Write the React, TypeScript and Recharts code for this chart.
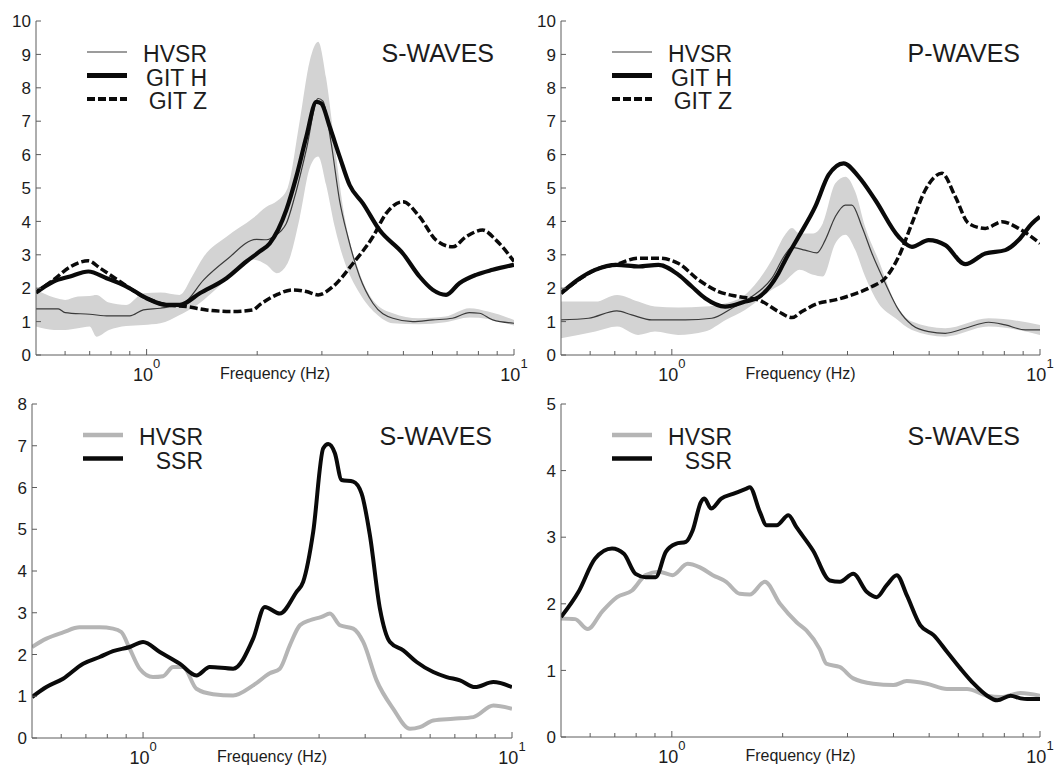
import { ComposedChart, Line, Area, XAxis, YAxis, Label } from "recharts";

// ---------- top-left: S-waves (HVSR band, GIT H, GIT Z)
const tlHvsrF = [0.5, 0.575, 0.6, 0.7, 0.79, 0.9, 0.98, 1.09, 1.26, 1.43, 1.65, 1.99, 2.12, 2.21, 2.4, 2.53, 2.72, 2.93, 3.02, 3.18, 3.35, 3.53, 3.8, 4.13, 4.68, 5.3, 6.0, 6.8, 7.56, 8.05, 8.75, 10];
const tlHvsr = [1.38, 1.38, 1.27, 1.22, 1.17, 1.17, 1.35, 1.4, 1.55, 2.25, 2.85, 3.46, 3.45, 3.54, 3.94, 4.74, 6.14, 7.68, 7.6, 6.34, 4.64, 3.54, 2.35, 1.55, 1.1, 1.0, 1.05, 1.1, 1.27, 1.25, 1.05, 0.95];
const tlBandF = [0.5, 0.56, 0.6, 0.65, 0.7, 0.73, 0.79, 0.88, 0.98, 1.09, 1.23, 1.33, 1.43, 1.65, 1.95, 2.12, 2.26, 2.42, 2.61, 2.78, 2.93, 3.08, 3.25, 3.42, 3.8, 4.2, 4.68, 5.5, 6.5, 7.56, 8.5, 10];
const tlBandHi = [1.95, 1.72, 1.65, 1.75, 1.77, 1.8, 1.57, 1.5, 1.85, 1.87, 1.8, 2.35, 2.94, 3.54, 4.1, 4.44, 4.6, 5.0, 7.0, 8.8, 9.38, 8.3, 6.3, 4.45, 2.45, 1.55, 1.25, 1.1, 1.15, 1.4, 1.3, 1.05];
const tlBandLo = [0.85, 0.75, 0.75, 0.8, 0.85, 0.55, 0.75, 0.87, 0.9, 0.95, 1.2, 1.4, 1.65, 2.25, 2.85, 2.7, 2.45, 2.75, 4.1, 5.6, 5.94, 5.1, 3.85, 2.95, 1.85, 1.25, 0.95, 0.92, 0.98, 1.12, 1.08, 0.88];
const tlGitHF = [0.5, 0.558, 0.619, 0.694, 0.778, 0.882, 1.0, 1.133, 1.232, 1.396, 1.65, 1.869, 2.032, 2.163, 2.4, 2.556, 2.722, 2.897, 2.989, 3.149, 3.353, 3.569, 3.879, 4.306, 4.984, 5.531, 6.012, 6.535, 7.103, 7.884, 8.75, 10];
const tlGitH = [1.87, 2.2, 2.35, 2.5, 2.3, 2.05, 1.7, 1.5, 1.5, 1.85, 2.3, 2.8, 3.1, 3.34, 4.34, 5.34, 6.54, 7.58, 7.53, 6.84, 5.94, 5.09, 4.54, 3.74, 3.04, 2.35, 1.95, 1.8, 2.15, 2.4, 2.55, 2.7];
const tlGitZF = [0.5, 0.558, 0.619, 0.694, 0.747, 0.846, 1.0, 1.133, 1.284, 1.456, 1.72, 1.949, 2.03, 2.256, 2.503, 2.722, 2.928, 3.216, 3.644, 4.13, 4.489, 4.984, 5.531, 6.138, 6.813, 7.405, 8.22, 8.935, 10];
const tlGitZ = [1.87, 2.25, 2.64, 2.82, 2.6, 2.2, 1.7, 1.5, 1.45, 1.35, 1.3, 1.35, 1.5, 1.8, 1.95, 1.9, 1.8, 2.05, 2.74, 3.54, 4.24, 4.59, 4.14, 3.44, 3.24, 3.54, 3.74, 3.44, 2.8];

// ---------- top-right: P-waves
const trHvsrF = [0.5, 0.594, 0.709, 0.778, 0.882, 1.087, 1.284, 1.456, 1.65, 1.87, 2.03, 2.12, 2.3, 2.477, 2.61, 2.779, 2.958, 3.084, 3.284, 3.496, 3.799, 4.13, 4.489, 4.984, 5.531, 6.268, 7.253, 8.05, 9.123, 10];
const trHvsr = [1.05, 1.1, 1.32, 1.2, 1.05, 1.05, 1.1, 1.4, 1.75, 2.3, 3.0, 3.22, 3.14, 3.06, 3.44, 4.14, 4.49, 4.49, 3.84, 3.04, 2.15, 1.35, 0.9, 0.7, 0.65, 0.8, 0.98, 0.9, 0.75, 0.75];
const trBandF = [0.5, 0.62, 0.71, 0.81, 0.9, 1.04, 1.23, 1.4, 1.58, 1.87, 2.03, 2.12, 2.22, 2.42, 2.57, 2.78, 2.96, 3.15, 3.35, 3.64, 4.05, 4.49, 5.53, 7.25, 10];
const trBandHi = [1.6, 1.6, 1.8, 1.6, 1.45, 1.42, 1.45, 1.55, 1.8, 2.85, 3.6, 3.8, 3.64, 3.64, 3.94, 5.14, 5.34, 4.89, 3.84, 2.85, 1.55, 1.0, 0.8, 1.1, 0.9];
const trBandLo = [0.5, 0.7, 0.85, 0.6, 0.7, 0.6, 0.7, 1.05, 1.35, 1.95, 2.2, 2.4, 2.55, 2.4, 2.35, 3.34, 3.6, 3.14, 2.35, 1.55, 1.1, 0.75, 0.55, 0.85, 0.6];
const trGitHF = [0.5, 0.558, 0.619, 0.709, 0.812, 0.92, 1.043, 1.133, 1.232, 1.396, 1.582, 1.72, 1.949, 2.032, 2.209, 2.452, 2.665, 2.928, 3.216, 3.569, 4.13, 4.489, 4.984, 5.531, 6.268, 7.103, 8.05, 8.75, 9.512, 10];
const trGitH = [1.85, 2.27, 2.55, 2.7, 2.65, 2.7, 2.4, 2.05, 1.7, 1.45, 1.6, 1.73, 2.45, 2.84, 3.54, 4.44, 5.39, 5.74, 5.34, 4.64, 3.54, 3.24, 3.44, 3.29, 2.72, 3.04, 3.14, 3.44, 3.94, 4.14];
const trGitZF = [0.5, 0.558, 0.619, 0.709, 0.812, 0.92, 1.043, 1.182, 1.339, 1.518, 1.72, 1.949, 2.119, 2.256, 2.503, 2.779, 3.084, 3.496, 3.799, 4.13, 4.489, 4.88, 5.416, 5.888, 6.4, 7.103, 7.884, 8.75, 10];
const trGitZ = [1.85, 2.25, 2.55, 2.72, 2.9, 2.9, 2.74, 2.25, 1.9, 1.75, 1.65, 1.3, 1.12, 1.3, 1.55, 1.65, 1.8, 2.05, 2.3, 2.94, 3.94, 4.94, 5.44, 4.74, 3.94, 3.79, 3.99, 3.79, 3.34];

// ---------- bottom-left: S-waves, HVSR vs SSR
const blHvsrF = [0.5, 0.547, 0.607, 0.673, 0.763, 0.829, 0.873, 0.92, 0.979, 1.064, 1.133, 1.206, 1.284, 1.395, 1.548, 1.754, 1.988, 2.206, 2.348, 2.499, 2.661, 2.833, 3.047, 3.21, 3.416, 3.712, 3.951, 4.295, 4.766, 5.289, 5.63, 6.118, 6.933, 7.857, 8.9, 10];
const blHvsr = [2.18, 2.38, 2.53, 2.65, 2.65, 2.62, 2.54, 2.14, 1.66, 1.46, 1.48, 1.7, 1.7, 1.18, 1.05, 1.02, 1.26, 1.55, 1.66, 2.22, 2.7, 2.82, 2.9, 2.98, 2.7, 2.62, 2.3, 1.38, 0.7, 0.22, 0.26, 0.42, 0.46, 0.5, 0.78, 0.7];
const blSsrF = [0.5, 0.547, 0.607, 0.688, 0.763, 0.829, 0.92, 1.0, 1.11, 1.257, 1.395, 1.516, 1.754, 1.988, 2.138, 2.348, 2.606, 2.716, 2.892, 3.079, 3.177, 3.311, 3.452, 3.712, 3.91, 4.119, 4.385, 4.668, 5.073, 5.514, 6.118, 6.65, 7.228, 7.94, 8.9, 10];
const blSsr = [0.98, 1.22, 1.42, 1.78, 1.94, 2.08, 2.18, 2.3, 2.06, 1.78, 1.5, 1.7, 1.66, 2.38, 3.14, 2.98, 3.5, 3.74, 4.94, 6.94, 7.04, 6.82, 6.18, 6.14, 5.86, 4.86, 3.1, 2.3, 2.1, 1.82, 1.58, 1.46, 1.38, 1.22, 1.34, 1.22];

// ---------- bottom-right: S-waves, HVSR vs SSR
const brHvsrF = [0.5, 0.546, 0.591, 0.646, 0.71, 0.78, 0.849, 0.923, 1.004, 1.104, 1.188, 1.292, 1.405, 1.529, 1.628, 1.789, 1.967, 2.185, 2.32, 2.522, 2.63, 2.861, 3.11, 3.527, 3.999, 4.346, 4.929, 5.589, 6.337, 7.185, 7.812, 8.857, 10];
const brHvsr = [1.78, 1.77, 1.62, 1.88, 2.1, 2.2, 2.43, 2.48, 2.43, 2.6, 2.55, 2.43, 2.33, 2.15, 2.14, 2.33, 2.0, 1.72, 1.6, 1.32, 1.1, 1.05, 0.88, 0.8, 0.78, 0.84, 0.8, 0.72, 0.72, 0.62, 0.6, 0.66, 0.62];
const brSsrF = [0.5, 0.558, 0.619, 0.688, 0.741, 0.797, 0.849, 0.904, 0.963, 1.025, 1.092, 1.139, 1.2, 1.226, 1.279, 1.362, 1.466, 1.595, 1.628, 1.734, 1.808, 1.926, 2.073, 2.18, 2.418, 2.686, 2.861, 3.11, 3.382, 3.6, 3.834, 4.084, 4.346, 4.727, 5.14, 5.589, 6.076, 6.607, 7.185, 7.65, 8.318, 8.857, 9.237, 10];
const brSsr = [1.8, 2.18, 2.68, 2.83, 2.75, 2.45, 2.4, 2.4, 2.78, 2.9, 2.93, 3.1, 3.53, 3.58, 3.43, 3.58, 3.65, 3.73, 3.75, 3.38, 3.18, 3.18, 3.33, 3.15, 2.8, 2.35, 2.33, 2.45, 2.18, 2.1, 2.28, 2.43, 2.13, 1.68, 1.53, 1.28, 1.03, 0.8, 0.62, 0.55, 0.62, 0.58, 0.57, 0.57];

// ---------- axis ticks
const xTicks = [0.6, 0.7, 0.8, 0.9, 1, 2, 3, 4, 5, 6, 7, 8, 9, 10];
const yTicks10 = [0, 1, 2, 3, 4, 5, 6, 7, 8, 9, 10];
const yTicks8 = [0, 1, 2, 3, 4, 5, 6, 7, 8];
const yTicks5 = [0, 1, 2, 3, 4, 5];

const INK = "#1c1c1c";
const AXIS = "#5c5c5c";
const BAND = "#d3d3d3";
const FONT = '"Liberation Sans", Arial, sans-serif';

type Pt = { f: number; v: number };
type BandPt = { f: number; lo: number; hi: number };
type Rect = { x: number; y: number; w: number; h: number };

const pts = (f: number[], v: number[]): Pt[] => f.map((x, i) => ({ f: x, v: v[i] }));
const bandPts = (f: number[], lo: number[], hi: number[]): BandPt[] =>
  f.map((x, i) => ({ f: x, lo: lo[i], hi: hi[i] }));

interface Series {
  data: Pt[];
  stroke: string;
  width: number;
  dash?: string;
}

interface LegendRow {
  label: string;
  stroke: string;
  width: number;
  dash?: string;
}

interface PanelDef {
  plot: Rect;
  yMax: number;
  yTicks: number[];
  band?: BandPt[];
  series: Series[];
  legend: LegendRow[];
  title: string;
  rowGap: number;
}

const BottomTick = (props: any) => {
  const { x, y, payload } = props;
  const v = payload.value;
  const major = v === 1 || v === 10;
  return (
    <g>
      <line x1={x} y1={y} x2={x} y2={y - (major ? 6 : 4)} stroke={AXIS} />
      {major && (
        <text x={x} y={y + 26} textAnchor="middle" fontSize={18} fill={INK}>
          10
          <tspan dy={-13} fontSize={13}>
            {v === 1 ? "0" : "1"}
          </tspan>
        </text>
      )}
    </g>
  );
};

const TopTick = (props: any) => {
  const { x, y, payload } = props;
  const major = payload.value === 1 || payload.value === 10;
  return <line x1={x} y1={y} x2={x} y2={y + (major ? 6 : 4)} stroke={AXIS} />;
};

const LeftTick = (props: any) => {
  const { x, y, payload } = props;
  return (
    <g>
      <line x1={x} y1={y} x2={x + 5} y2={y} stroke={AXIS} />
      <text x={x - 5} y={y} dy="0.36em" textAnchor="end" fontSize={17} fill={INK}>
        {payload.value}
      </text>
    </g>
  );
};

const RightTick = (props: any) => {
  const { x, y } = props;
  return <line x1={x} y1={y} x2={x - 5} y2={y} stroke={AXIS} />;
};

function Panel({ plot, yMax, yTicks, band, series, legend, title, rowGap }: PanelDef) {
  const AX_W = 40;
  const TOP = 10;
  const RIGHT = 19;
  const AX_H = 36;
  const width = plot.w + AX_W + RIGHT;
  const height = plot.h + TOP + AX_H;
  const xProps = {
    dataKey: "f",
    type: "number" as const,
    scale: "log" as const,
    domain: [0.5, 10],
    allowDataOverflow: true,
    ticks: xTicks,
    interval: 0 as const,
    tickSize: 0,
    tickMargin: 0,
    stroke: AXIS,
  };
  const yProps = {
    type: "number" as const,
    domain: [0, yMax],
    allowDataOverflow: true,
    ticks: yTicks,
    interval: 0 as const,
    tickSize: 0,
    tickMargin: 0,
    stroke: AXIS,
  };
  return (
    <div style={{ position: "absolute", left: plot.x - AX_W, top: plot.y - TOP }}>
      <ComposedChart width={width} height={height} margin={{ top: TOP, right: RIGHT, bottom: 0, left: 0 }}>
        <XAxis {...xProps} height={AX_H} tick={(p: any) => <BottomTick {...p} />}>
          <Label value="Frequency (Hz)" position="insideTop" offset={13} fontSize={16} fill={INK} />
        </XAxis>
        <XAxis {...xProps} xAxisId="top" orientation="top" height={0} tick={(p: any) => <TopTick {...p} />} />
        <YAxis {...yProps} width={AX_W} tick={(p: any) => <LeftTick {...p} />} />
        <YAxis {...yProps} yAxisId="right" orientation="right" width={0} tick={(p: any) => <RightTick {...p} />} />
        {band && (
          <Area
            data={band}
            dataKey={(d: BandPt) => [d.lo, d.hi]}
            type="monotone"
            stroke="none"
            fill={BAND}
            fillOpacity={1}
            isAnimationActive={false}
          />
        )}
        {series.map((s, i) => (
          <Line
            key={i}
            data={s.data}
            dataKey="v"
            type="monotone"
            stroke={s.stroke}
            strokeWidth={s.width}
            strokeDasharray={s.dash}
            strokeLinejoin="round"
            dot={false}
            activeDot={false}
            isAnimationActive={false}
          />
        ))}
      </ComposedChart>
      <svg
        width={width}
        height={height}
        style={{ position: "absolute", left: 0, top: 0, pointerEvents: "none" }}
      >
        {legend.map((r, i) => (
          <g key={r.label}>
            <line
              x1={AX_W + 51}
              x2={AX_W + 91}
              y1={TOP + 31 + i * rowGap}
              y2={TOP + 31 + i * rowGap}
              stroke={r.stroke}
              strokeWidth={r.width}
              strokeDasharray={r.dash}
            />
            <text x={AX_W + 171} y={TOP + 41 + i * rowGap} textAnchor="end" fontSize={23} fill={INK}>
              {r.label}
            </text>
          </g>
        ))}
        <text x={AX_W + plot.w - 20} y={TOP + 41} textAnchor="end" fontSize={25} fill={INK}>
          {title}
        </text>
      </svg>
    </div>
  );
}

const THIN = "#3a3a3a";
const BLACK = "#0a0a0a";
const LIGHT = "#b5b5b5";
const DASH = "8 3";

const topLegend: LegendRow[] = [
  { label: "HVSR", stroke: THIN, width: 1.2 },
  { label: "GIT H", stroke: BLACK, width: 5 },
  { label: "GIT Z", stroke: BLACK, width: 4, dash: DASH },
];
const bottomLegend: LegendRow[] = [
  { label: "HVSR", stroke: LIGHT, width: 4.5 },
  { label: "SSR", stroke: BLACK, width: 4.5 },
];

const panels: PanelDef[] = [
  {
    plot: { x: 36, y: 21, w: 478, h: 334 },
    yMax: 10,
    yTicks: yTicks10,
    band: bandPts(tlBandF, tlBandLo, tlBandHi),
    series: [
      { data: pts(tlHvsrF, tlHvsr), stroke: THIN, width: 1.2 },
      { data: pts(tlGitZF, tlGitZ), stroke: BLACK, width: 3.5, dash: DASH },
      { data: pts(tlGitHF, tlGitH), stroke: BLACK, width: 4.2 },
    ],
    legend: topLegend,
    title: "S-WAVES",
    rowGap: 23.5,
  },
  {
    plot: { x: 561, y: 21, w: 479, h: 334 },
    yMax: 10,
    yTicks: yTicks10,
    band: bandPts(trBandF, trBandLo, trBandHi),
    series: [
      { data: pts(trHvsrF, trHvsr), stroke: THIN, width: 1.2 },
      { data: pts(trGitZF, trGitZ), stroke: BLACK, width: 3.5, dash: DASH },
      { data: pts(trGitHF, trGitH), stroke: BLACK, width: 4.2 },
    ],
    legend: topLegend,
    title: "P-WAVES",
    rowGap: 23.5,
  },
  {
    plot: { x: 32, y: 404, w: 480, h: 334 },
    yMax: 8,
    yTicks: yTicks8,
    series: [
      { data: pts(blHvsrF, blHvsr), stroke: LIGHT, width: 4 },
      { data: pts(blSsrF, blSsr), stroke: BLACK, width: 4 },
    ],
    legend: bottomLegend,
    title: "S-WAVES",
    rowGap: 23.5,
  },
  {
    plot: { x: 561, y: 404, w: 479, h: 333 },
    yMax: 5,
    yTicks: yTicks5,
    series: [
      { data: pts(brHvsrF, brHvsr), stroke: LIGHT, width: 4 },
      { data: pts(brSsrF, brSsr), stroke: BLACK, width: 4 },
    ],
    legend: bottomLegend,
    title: "S-WAVES",
    rowGap: 23.5,
  },
];

export default function App() {
  return (
    <div
      style={{
        position: "absolute",
        left: 0,
        top: 0,
        width: 1059,
        height: 767,
        overflow: "hidden",
        background: "#fff",
        fontFamily: FONT,
      }}
    >
      {panels.map((p, i) => (
        <Panel key={i} {...p} />
      ))}
    </div>
  );
}
